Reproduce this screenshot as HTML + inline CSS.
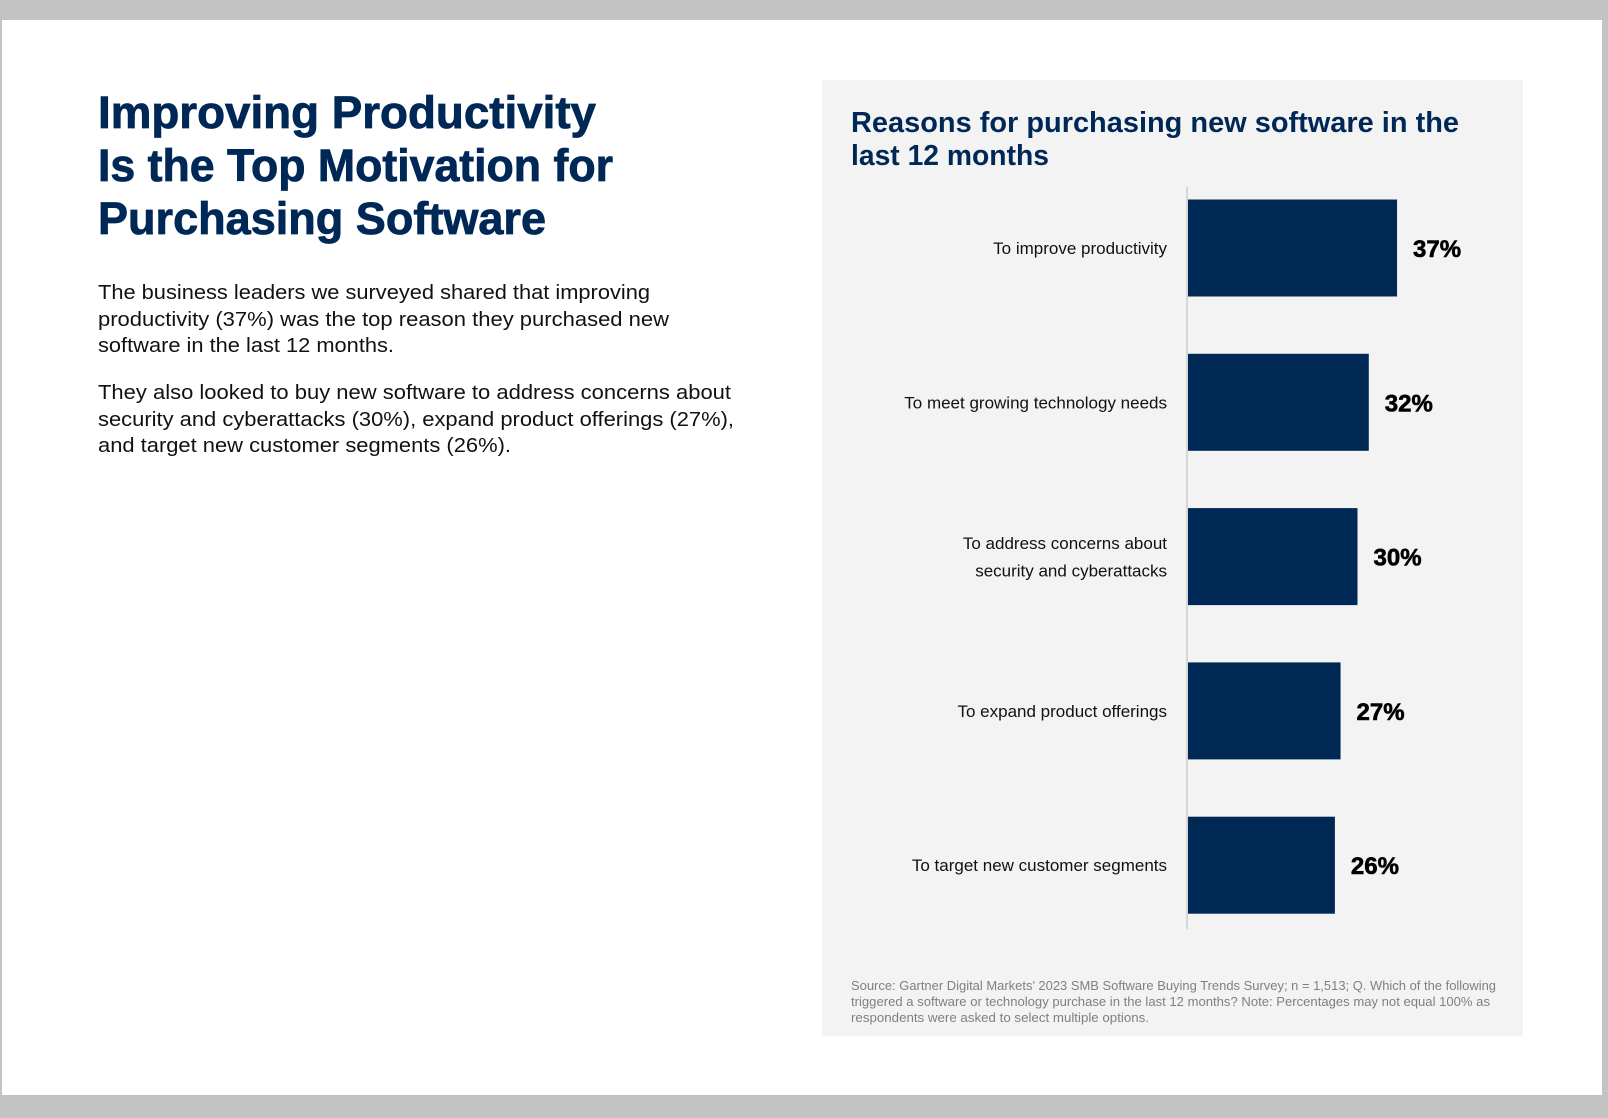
<!DOCTYPE html>
<html><head><meta charset="utf-8"><style>
html,body{margin:0;padding:0;background:#c3c3c3;}
svg{display:block;font-family:"Liberation Sans",sans-serif;}
</style></head><body>
<svg id="page" width="1608" height="1118" viewBox="0 0 1608 1118">
<rect x="0" y="0" width="1608" height="1118" fill="#c3c3c3"/>
<rect x="2" y="20" width="1600" height="1075" fill="#ffffff"/>
<g fill="#002856" font-weight="bold" font-size="45" stroke="#002856" stroke-width="0.8">
<text x="98" y="128" textLength="498" lengthAdjust="spacingAndGlyphs">Improving Productivity</text>
<text x="98" y="181" textLength="515" lengthAdjust="spacingAndGlyphs">Is the Top Motivation for</text>
<text x="98" y="234" textLength="448" lengthAdjust="spacingAndGlyphs">Purchasing Software</text>
</g>
<g fill="#111" font-size="20">
<text x="98" y="299" textLength="552" lengthAdjust="spacingAndGlyphs">The business leaders we surveyed shared that improving</text>
<text x="98" y="326" textLength="571" lengthAdjust="spacingAndGlyphs">productivity (37%) was the top reason they purchased new</text>
<text x="98" y="352" textLength="296" lengthAdjust="spacingAndGlyphs">software in the last 12 months.</text>
<text x="98" y="399" textLength="633" lengthAdjust="spacingAndGlyphs">They also looked to buy new software to address concerns about</text>
<text x="98" y="426" textLength="636" lengthAdjust="spacingAndGlyphs">security and cyberattacks (30%), expand product offerings (27%),</text>
<text x="98" y="452" textLength="413" lengthAdjust="spacingAndGlyphs">and target new customer segments (26%).</text>
</g>
<rect x="822" y="80" width="701" height="956" fill="#f3f3f3"/>
<g fill="#002856" font-weight="bold" font-size="29">
<text x="851" y="132" textLength="608" lengthAdjust="spacingAndGlyphs">Reasons for purchasing new software in the</text>
<text x="851" y="165" textLength="198" lengthAdjust="spacingAndGlyphs">last 12 months</text>
</g>
<line x1="1187" y1="187" x2="1187" y2="929" stroke="#d6d6d6" stroke-width="2"/>
<g id="bars"></g>
<g fill="#808080" font-size="12.5">
<text x="851" y="990" textLength="645" lengthAdjust="spacingAndGlyphs">Source: Gartner Digital Markets’ 2023 SMB Software Buying Trends Survey; n = 1,513; Q. Which of the following</text>
<text x="851" y="1006" textLength="639" lengthAdjust="spacingAndGlyphs">triggered a software or technology purchase in the last 12 months? Note: Percentages may not equal 100% as</text>
<text x="851" y="1022" textLength="298" lengthAdjust="spacingAndGlyphs">respondents were asked to select multiple options.</text>
</g>
</svg>
<script>
const categories = [["To improve productivity"],["To meet growing technology needs"],["To address concerns about","security and cyberattacks"],["To expand product offerings"],["To target new customer segments"]];
const values = [37, 32, 30, 27, 26];
const valueLabels = ["37%","32%","30%","27%","26%"];

const NS = "http://www.w3.org/2000/svg";
const g = document.getElementById("bars");
const x0 = 1188, pxPerUnit = 5.65;
function xScale(v){ return x0 + v * pxPerUnit; }
function yCenter(i){ return 248 + i * 154.3; }
const barH = 97;
values.forEach((v, i) => {
  const cy = yCenter(i);
  const r = document.createElementNS(NS, "rect");
  r.setAttribute("x", x0);
  r.setAttribute("y", cy - barH / 2);
  r.setAttribute("width", xScale(v) - x0);
  r.setAttribute("height", barH);
  r.setAttribute("fill", "#002855");
  
  
  g.appendChild(r);
  const t = document.createElementNS(NS, "text");
  t.setAttribute("x", xScale(v) + 16);
  t.setAttribute("y", cy + 9);
  t.setAttribute("font-size", "24");
  t.setAttribute("font-weight", "bold");
  t.setAttribute("fill", "#000");
  t.setAttribute("stroke", "#000");
  t.setAttribute("stroke-width", "0.6");
  t.textContent = valueLabels[i];
  
  
  g.appendChild(t);
  const lines = categories[i];
  lines.forEach((ln, j) => {
    const l = document.createElementNS(NS, "text");
    l.setAttribute("x", 1167);
    l.setAttribute("y", cy + 6 + (j - (lines.length - 1) / 2) * 27.5);
    l.setAttribute("font-size", "17");
    l.setAttribute("text-anchor", "end");
    l.setAttribute("fill", "#111");
    l.textContent = ln;
    
    
    g.appendChild(l);
  });
});
</script>
</body></html>
